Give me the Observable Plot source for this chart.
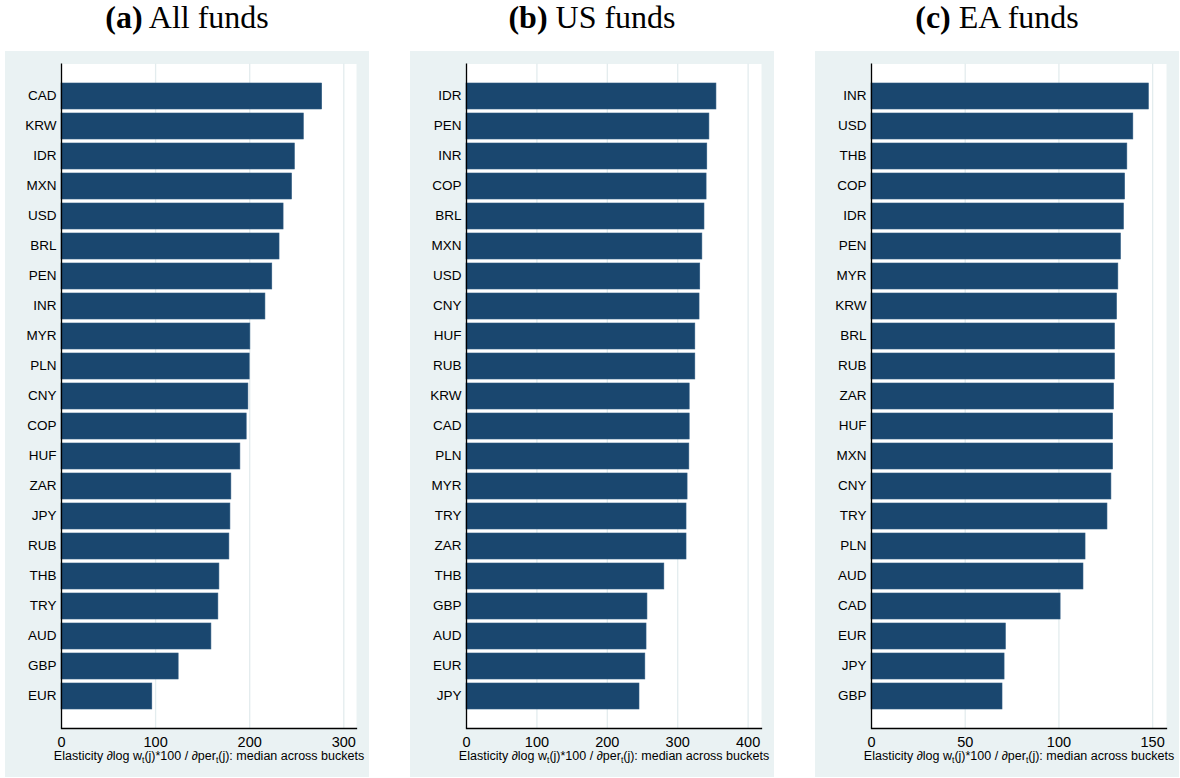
<!DOCTYPE html>
<html>
<head>
<meta charset="utf-8">
<script src="https://cdn.jsdelivr.net/npm/d3@7"></script>
<script src="https://cdn.jsdelivr.net/npm/@observablehq/plot@0.6"></script>
<style>
  body { margin: 0; background: #ffffff; width: 1180px; height: 778px; position: relative; overflow: hidden; }
  .title { position: absolute; top: -1px; width: 364px; text-align: center; font-family: "Liberation Serif", "DejaVu Serif", serif; font-size: 32px; line-height: 36px; color: #000; }
  .title b { font-weight: 700; }
  .panel { position: absolute; top: 51px; width: 364px; height: 726px; }
</style>
</head>
<body>
<div class="title" style="left:5px"><b>(a)</b> All funds</div>
<div class="title" style="left:410px"><b>(b)</b> US funds</div>
<div class="title" style="left:815px"><b>(c)</b> EA funds</div>
<div class="panel" id="pa" style="left:5px"></div>
<div class="panel" id="pb" style="left:410px"></div>
<div class="panel" id="pc" style="left:815px"></div>
<script>
// ---- data ----
const catsAll = ["CAD","KRW","IDR","MXN","USD","BRL","PEN","INR","MYR","PLN","CNY","COP","HUF","ZAR","JPY","RUB","THB","TRY","AUD","GBP","EUR"];
const valsAll = [277, 257.5, 248, 245, 236, 231.7, 224, 216.7, 200.7, 200, 198.6, 196.8, 190.1, 180.5, 179.5, 178.4, 167.8, 166.7, 159.3, 124.5, 96.5];
const ticksAll = [0, 100, 200, 300];

const catsUS = ["IDR","PEN","INR","COP","BRL","MXN","USD","CNY","HUF","RUB","KRW","CAD","PLN","MYR","TRY","ZAR","THB","GBP","AUD","EUR","JPY"];
const valsUS = [355, 345, 342, 341, 338, 335, 332, 331, 325, 325, 317, 317, 316.5, 314, 312.5, 312.5, 281, 257, 255.7, 254, 245.7];
const ticksUS = [0, 100, 200, 300, 400];

const catsEA = ["INR","USD","THB","COP","IDR","PEN","MYR","KRW","BRL","RUB","ZAR","HUF","MXN","CNY","TRY","PLN","AUD","CAD","EUR","JPY","GBP"];
const valsEA = [148, 139.7, 136.5, 135.3, 134.7, 133.1, 131.7, 131, 129.9, 129.9, 129.4, 128.9, 128.9, 128, 125.9, 114.2, 113.1, 100.9, 71.7, 71, 69.9];
const ticksEA = [0, 50, 100, 150];

const xMax = {all: 313.5, us: 419, ea: 157.4};
const axisTitle = ["Elasticity \u2202log w", "t", "(j)*100 / \u2202per", "t", "(j): median across buckets"];

function panel(cats, vals, xmax, ticks) {
  const data = cats.map((c, i) => ({cur: c, val: vals[i]}));
  const chart = Plot.plot({
    width: 364,
    height: 726,
    marginLeft: 56,
    marginRight: 13,
    marginTop: 12.5,
    marginBottom: 49,
    style: {background: "#eaf2f3", fontFamily: "'Liberation Sans', Arial, sans-serif", fontSize: "13px", color: "#000"},
    x: {domain: [0, xmax]},
    y: {domain: cats, paddingInner: 0.15, paddingOuter: 0.62},
    marks: [
      Plot.frame({fill: "white", stroke: null}),
      Plot.gridX(ticks, {stroke: "#e3ecee", strokeOpacity: 1, strokeWidth: 1.3}),
      Plot.barX(data, {x: "val", y: "cur", fill: "#1a476f", stroke: "#2d5a80", strokeWidth: 0.6}),
      Plot.ruleX([0], {stroke: "#000", strokeWidth: 1.3}),
      Plot.frame({anchor: "bottom", stroke: "#000", strokeWidth: 1.3}),
      Plot.axisY({tickSize: 0, tickPadding: 5, label: null, fontSize: 13.5, dy: -1}),
      Plot.axisX(ticks, {tickSize: 0, tickPadding: 8, fontSize: 14.5, label: axisTitle.join(""), labelAnchor: "center", labelArrow: "none", labelOffset: 31})
    ]
  });
  // subscripts in the axis title
  const lbl = d3.select(chart).select('g[aria-label="x-axis label"] text');
  if (!lbl.empty()) {
    lbl.text(null).style("font-size", "12.5px");
    axisTitle.forEach((s, i) => {
      const t = lbl.append("tspan").text(s);
      if (i % 2 === 1) t.attr("dy", "3px").style("font-size", "8.5px");
      else if (i > 0) t.attr("dy", "-3px");
    });
  }
  return chart;
}

document.getElementById("pa").append(panel(catsAll, valsAll, xMax.all, ticksAll));
document.getElementById("pb").append(panel(catsUS, valsUS, xMax.us, ticksUS));
document.getElementById("pc").append(panel(catsEA, valsEA, xMax.ea, ticksEA));
</script>
</body>
</html>
